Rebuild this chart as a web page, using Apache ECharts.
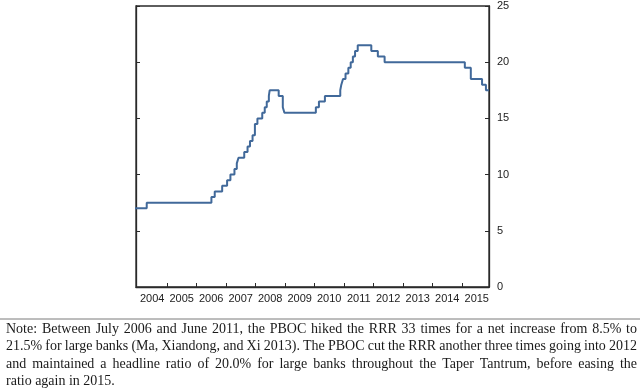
<!DOCTYPE html>
<html><head><meta charset="utf-8">
<script src="https://cdn.jsdelivr.net/npm/echarts@6/dist/echarts.min.js"></script>
<style>html,body{margin:0;padding:0;background:#fff}#c{width:640px;height:390px}</style>
</head><body><div id="c"></div>
<script>
// Reserve requirement ratio, large banks (%), value in force from each date
const changeDates = ['2003-09-21','2004-04-25','2006-07-05','2006-08-15','2006-11-15','2007-01-15','2007-02-25','2007-04-16','2007-05-15','2007-06-05','2007-08-15','2007-09-25','2007-10-25','2007-11-26','2007-12-25','2008-01-25','2008-03-25','2008-04-25','2008-05-20','2008-06-15','2008-06-25','2008-10-15','2008-12-05','2008-12-25','2010-01-18','2010-02-25','2010-05-10','2010-11-16','2010-11-29','2010-12-20','2011-01-20','2011-02-24','2011-03-25','2011-04-21','2011-05-18','2011-06-20','2011-12-05','2012-02-24','2012-05-18','2015-02-05','2015-04-20','2015-09-06','2015-10-24','2015-12-01'];
const rrrLarge =    [7.0,7.5,8.0,8.5,9.0,9.5,10.0,10.5,11.0,11.5,12.0,12.5,13.0,13.5,14.5,15.0,15.5,16.0,16.5,17.0,17.5,17.0,16.0,15.5,16.0,16.5,17.0,17.5,18.0,18.5,19.0,19.5,20.0,20.5,21.0,21.5,21.0,20.5,20.0,19.5,18.5,18.0,17.5,17.5];
const tickYears = [2005,2006,2007,2008,2009,2010,2011,2012,2013,2014,2015];
const labelYears = [2004,2005,2006,2007,2008,2009,2010,2011,2012,2013,2014,2015];
const yMin = 0, yMax = 25, yStep = 5;
const axisStart = '2003-12-14', axisEnd = '2015-12-01';
const noteLines = [
  'Note: Between July 2006 and June 2011, the PBOC hiked the RRR 33 times for a net increase from 8.5% to',
  '21.5% for large banks (Ma, Xiandong, and Xi 2013). The PBOC cut the RRR another three times going into 2012',
  'and maintained a headline ratio of 20.0% for large banks throughout the Taper Tantrum, before easing the',
  'ratio again in 2015.'
];

function toYear(s){
  const [y,m,d] = s.split('-').map(Number);
  const t0 = Date.UTC(y,0,1), t1 = Date.UTC(y+1,0,1), t = Date.UTC(y,m-1,d);
  return y + (t - t0)/(t1 - t0);
}
const seriesData = changeDates.map((d,i)=>[toYear(d), rrrLarge[i]]);

// note text, justified word by word
const noteFont = '14px "Liberation Serif"';
const ctx = document.createElement('canvas').getContext('2d');
ctx.font = noteFont;
const noteL = 6, noteR = 637, noteTop = 329, noteLH = 17.5;
const graphics = [{
  type:'line', shape:{x1:0,y1:319,x2:640,y2:319}, style:{stroke:'#7a7a7a', lineWidth:1}
}];
noteLines.forEach((line, li)=>{
  const words = line.split(' ');
  const widths = words.map(w=>ctx.measureText(w).width);
  const total = widths.reduce((a,b)=>a+b,0);
  const last = li === noteLines.length-1;
  const gap = last ? ctx.measureText(' ').width : (noteR-noteL-total)/(words.length-1);
  let x = noteL;
  words.forEach((w,wi)=>{
    graphics.push({type:'text', x:x, y:noteTop+li*noteLH, style:{text:w, font:noteFont, fill:'#1a1a1a', textVerticalAlign:'middle'}});
    x += widths[wi] + gap;
  });
});

const chart = echarts.init(document.getElementById('c'), null, {renderer:'canvas'});
const axisColor = '#2a2a2a';
chart.setOption({
  animation:false,
  grid:{left:136, right:151, top:6, bottom:103, show:true, borderColor:axisColor, borderWidth:1.3, backgroundColor:'transparent'},
  xAxis:{
    type:'value', min:toYear(axisStart), max:toYear(axisEnd),
    axisLine:{show:true, lineStyle:{color:axisColor, width:1.3}},
    axisTick:{show:true, inside:true, length:4, customValues:tickYears, lineStyle:{color:axisColor}},
    axisLabel:{customValues:labelYears.map(y=>y+0.5), formatter:v=>String(Math.floor(v)), color:'#222', fontFamily:'Liberation Sans', fontSize:11, margin:6},
    splitLine:{show:false}
  },
  yAxis:[{
    type:'value', position:'right', min:yMin, max:yMax, interval:yStep,
    axisLine:{show:true, lineStyle:{color:axisColor, width:1.3}},
    axisTick:{show:true, inside:true, length:4, lineStyle:{color:axisColor}},
    axisLabel:{color:'#222', fontFamily:'Liberation Sans', fontSize:11, margin:8},
    splitLine:{show:false}
  },{
    type:'value', position:'left', min:yMin, max:yMax, interval:yStep,
    axisLine:{show:true, lineStyle:{color:axisColor, width:1.3}},
    axisTick:{show:true, inside:true, length:4, lineStyle:{color:axisColor}},
    axisLabel:{show:false}, splitLine:{show:false}
  }],
  series:[{
    type:'line', step:'end', data:seriesData, yAxisIndex:0, showSymbol:false, symbol:'none', clip:true,
    lineStyle:{color:'#41699a', width:2}
  }],
  graphic:graphics
});
</script>
</body></html>
